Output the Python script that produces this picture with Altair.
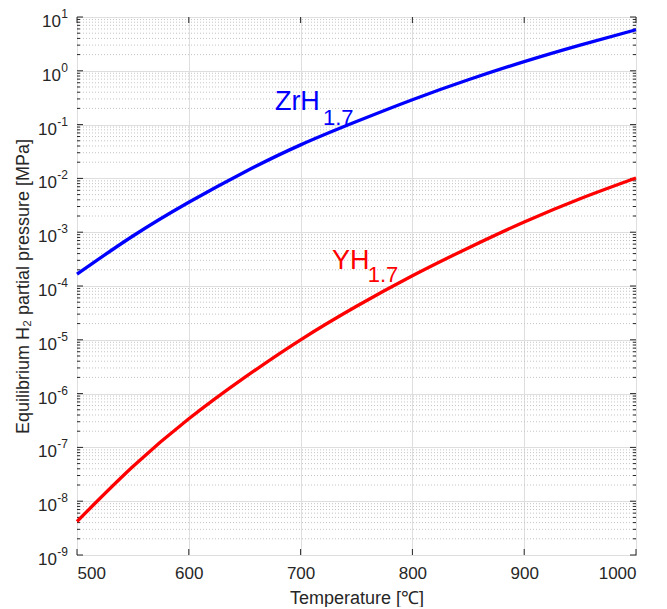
import altair as alt
import pandas as pd

# ---- data ----
temps = [500, 550, 600, 650, 700, 750, 800, 850, 900, 950, 1000]
zrh_p = [1.66e-4, 8.5e-4, 3.6e-3, 1.32e-2, 4.2e-2, 0.114, 0.29, 0.68, 1.48, 3.0, 5.8]
yh_p = [4.2e-9, 4.4e-8, 3.4e-7, 2.0e-6, 1.0e-5, 4.2e-5, 1.55e-4, 5.1e-4, 1.55e-3, 4.2e-3, 1.02e-2]
series_names = ["ZrH", "YH"]
series_colors = ["#0000ff", "#ff0000"]

x_ticks = [500, 600, 700, 800, 900, 1000]
y_exps = list(range(-9, 2))
y_major = [10.0 ** e for e in y_exps]
y_minor = [k * 10.0 ** e for e in range(-9, 1) for k in range(2, 10)]

# label annotations (main text and subscript)
lab_main_T = [677, 728]
lab_main_P = [0.185, 2.1e-4]
lab_main_text = ["ZrH", "YH"]
lab_sub_T = [720, 760]
lab_sub_P = [0.098, 1.17e-4]
lab_sub_text = ["1.7", "1.7"]

W, H = 559, 538
FONT = "Liberation Sans"
AX = "#262626"

df = pd.DataFrame({
    "T": temps + temps,
    "P": zrh_p + yh_p,
    "series": [series_names[0]] * len(temps) + [series_names[1]] * len(temps),
})

xs = alt.Scale(domain=[500, 1000], nice=False, zero=False)
ys = alt.Scale(type="log", domain=[1e-9, 10], nice=False)

x_axis = alt.Axis(values=x_ticks, grid=True, gridColor="#dedede", gridWidth=1,
                  ticks=False, domain=False, labelFontSize=17, labelColor=AX,
                  labelFont=FONT, labelPadding=10, title="Temperature [℃]",
                  titleFont=FONT, titleFontSize=18, titleColor=AX, titleFontWeight="normal",
                  titlePadding=8, format="d")
y_axis = alt.Axis(values=y_major, grid=True, gridColor="#dedede", gridWidth=1,
                  ticks=False, domain=False, labels=False,
                  title="Equilibrium H₂ partial pressure [MPa]",
                  titleFont=FONT, titleFontSize=18, titleColor=AX, titleFontWeight="normal",
                  titlePadding=45)

minor_df = pd.DataFrame({"v": y_minor})
major_df = pd.DataFrame({"v": y_major})
xt_df = pd.DataFrame({"t": x_ticks})

minor_grid = alt.Chart(minor_df).mark_rule(color="#c4c4c4", strokeDash=[1, 2], strokeWidth=1).encode(
    y=alt.Y("v:Q", scale=ys, axis=y_axis), x=alt.value(0), x2=alt.value(W))

lines = alt.Chart(df).mark_line(strokeWidth=3.3, interpolate="natural").encode(
    x=alt.X("T:Q", scale=xs, axis=x_axis),
    y=alt.Y("P:Q", scale=ys, axis=y_axis),
    color=alt.Color("series:N", scale=alt.Scale(domain=series_names, range=series_colors), legend=None),
)

# inside ticks (MATLAB style)
yt_major_l = alt.Chart(major_df).mark_rule(color=AX).encode(y=alt.Y("v:Q", scale=ys), x=alt.value(0), x2=alt.value(6))
yt_major_r = alt.Chart(major_df).mark_rule(color=AX).encode(y=alt.Y("v:Q", scale=ys), x=alt.value(W - 6), x2=alt.value(W))
yt_minor_l = alt.Chart(minor_df).mark_rule(color=AX).encode(y=alt.Y("v:Q", scale=ys), x=alt.value(0), x2=alt.value(3))
yt_minor_r = alt.Chart(minor_df).mark_rule(color=AX).encode(y=alt.Y("v:Q", scale=ys), x=alt.value(W - 3), x2=alt.value(W))
xt_b = alt.Chart(xt_df).mark_rule(color=AX).encode(x=alt.X("t:Q", scale=xs), y=alt.value(H - 6), y2=alt.value(H))
xt_t = alt.Chart(xt_df).mark_rule(color=AX).encode(x=alt.X("t:Q", scale=xs), y=alt.value(0), y2=alt.value(6))

# y tick labels "10" with a superscript exponent
tl_df = pd.DataFrame({"v": y_major, "exp": [str(e) for e in y_exps],
                      "neg": [e < 0 for e in y_exps]})
exp_lbl = alt.Chart(tl_df).mark_text(align="right", baseline="alphabetic", fontSize=12, font=FONT,
                                     color=AX, dy=1).encode(
    y=alt.Y("v:Q", scale=ys), x=alt.value(-9), text="exp:N")
ten_neg = alt.Chart(tl_df).transform_filter("datum.neg").mark_text(
    align="right", baseline="middle", fontSize=17, font=FONT, color=AX, dy=5).encode(
    y=alt.Y("v:Q", scale=ys), x=alt.value(-20), text=alt.value("10"))
ten_pos = alt.Chart(tl_df).transform_filter("!datum.neg").mark_text(
    align="right", baseline="middle", fontSize=17, font=FONT, color=AX, dy=5).encode(
    y=alt.Y("v:Q", scale=ys), x=alt.value(-16), text=alt.value("10"))

main_df = pd.DataFrame({"T": lab_main_T, "P": lab_main_P, "txt": lab_main_text, "series": series_names})
sub_df = pd.DataFrame({"T": lab_sub_T, "P": lab_sub_P, "txt": lab_sub_text, "series": series_names})
col = alt.Color("series:N", scale=alt.Scale(domain=series_names, range=series_colors), legend=None)

main_txt = alt.Chart(main_df).mark_text(align="left", baseline="alphabetic", fontSize=27, font=FONT).encode(
    x=alt.X("T:Q", scale=xs), y=alt.Y("P:Q", scale=ys), text="txt:N", color=col)
sub_txt = alt.Chart(sub_df).mark_text(align="left", baseline="alphabetic", fontSize=22, font=FONT).encode(
    x=alt.X("T:Q", scale=xs), y=alt.Y("P:Q", scale=ys), text="txt:N", color=col)

chart = alt.layer(minor_grid, yt_minor_l, yt_minor_r, yt_major_l, yt_major_r, xt_b, xt_t,
                  lines, main_txt, sub_txt, exp_lbl, ten_neg, ten_pos).properties(
    width=W, height=H,
    autosize=alt.AutoSizeParams(type="none"),
    padding={"left": 69, "top": 9, "right": 23, "bottom": 52},
    background="white",
).configure_view(stroke=AX, strokeWidth=1)

chart.save("out.html", embed_options={"renderer": "svg", "actions": False})
